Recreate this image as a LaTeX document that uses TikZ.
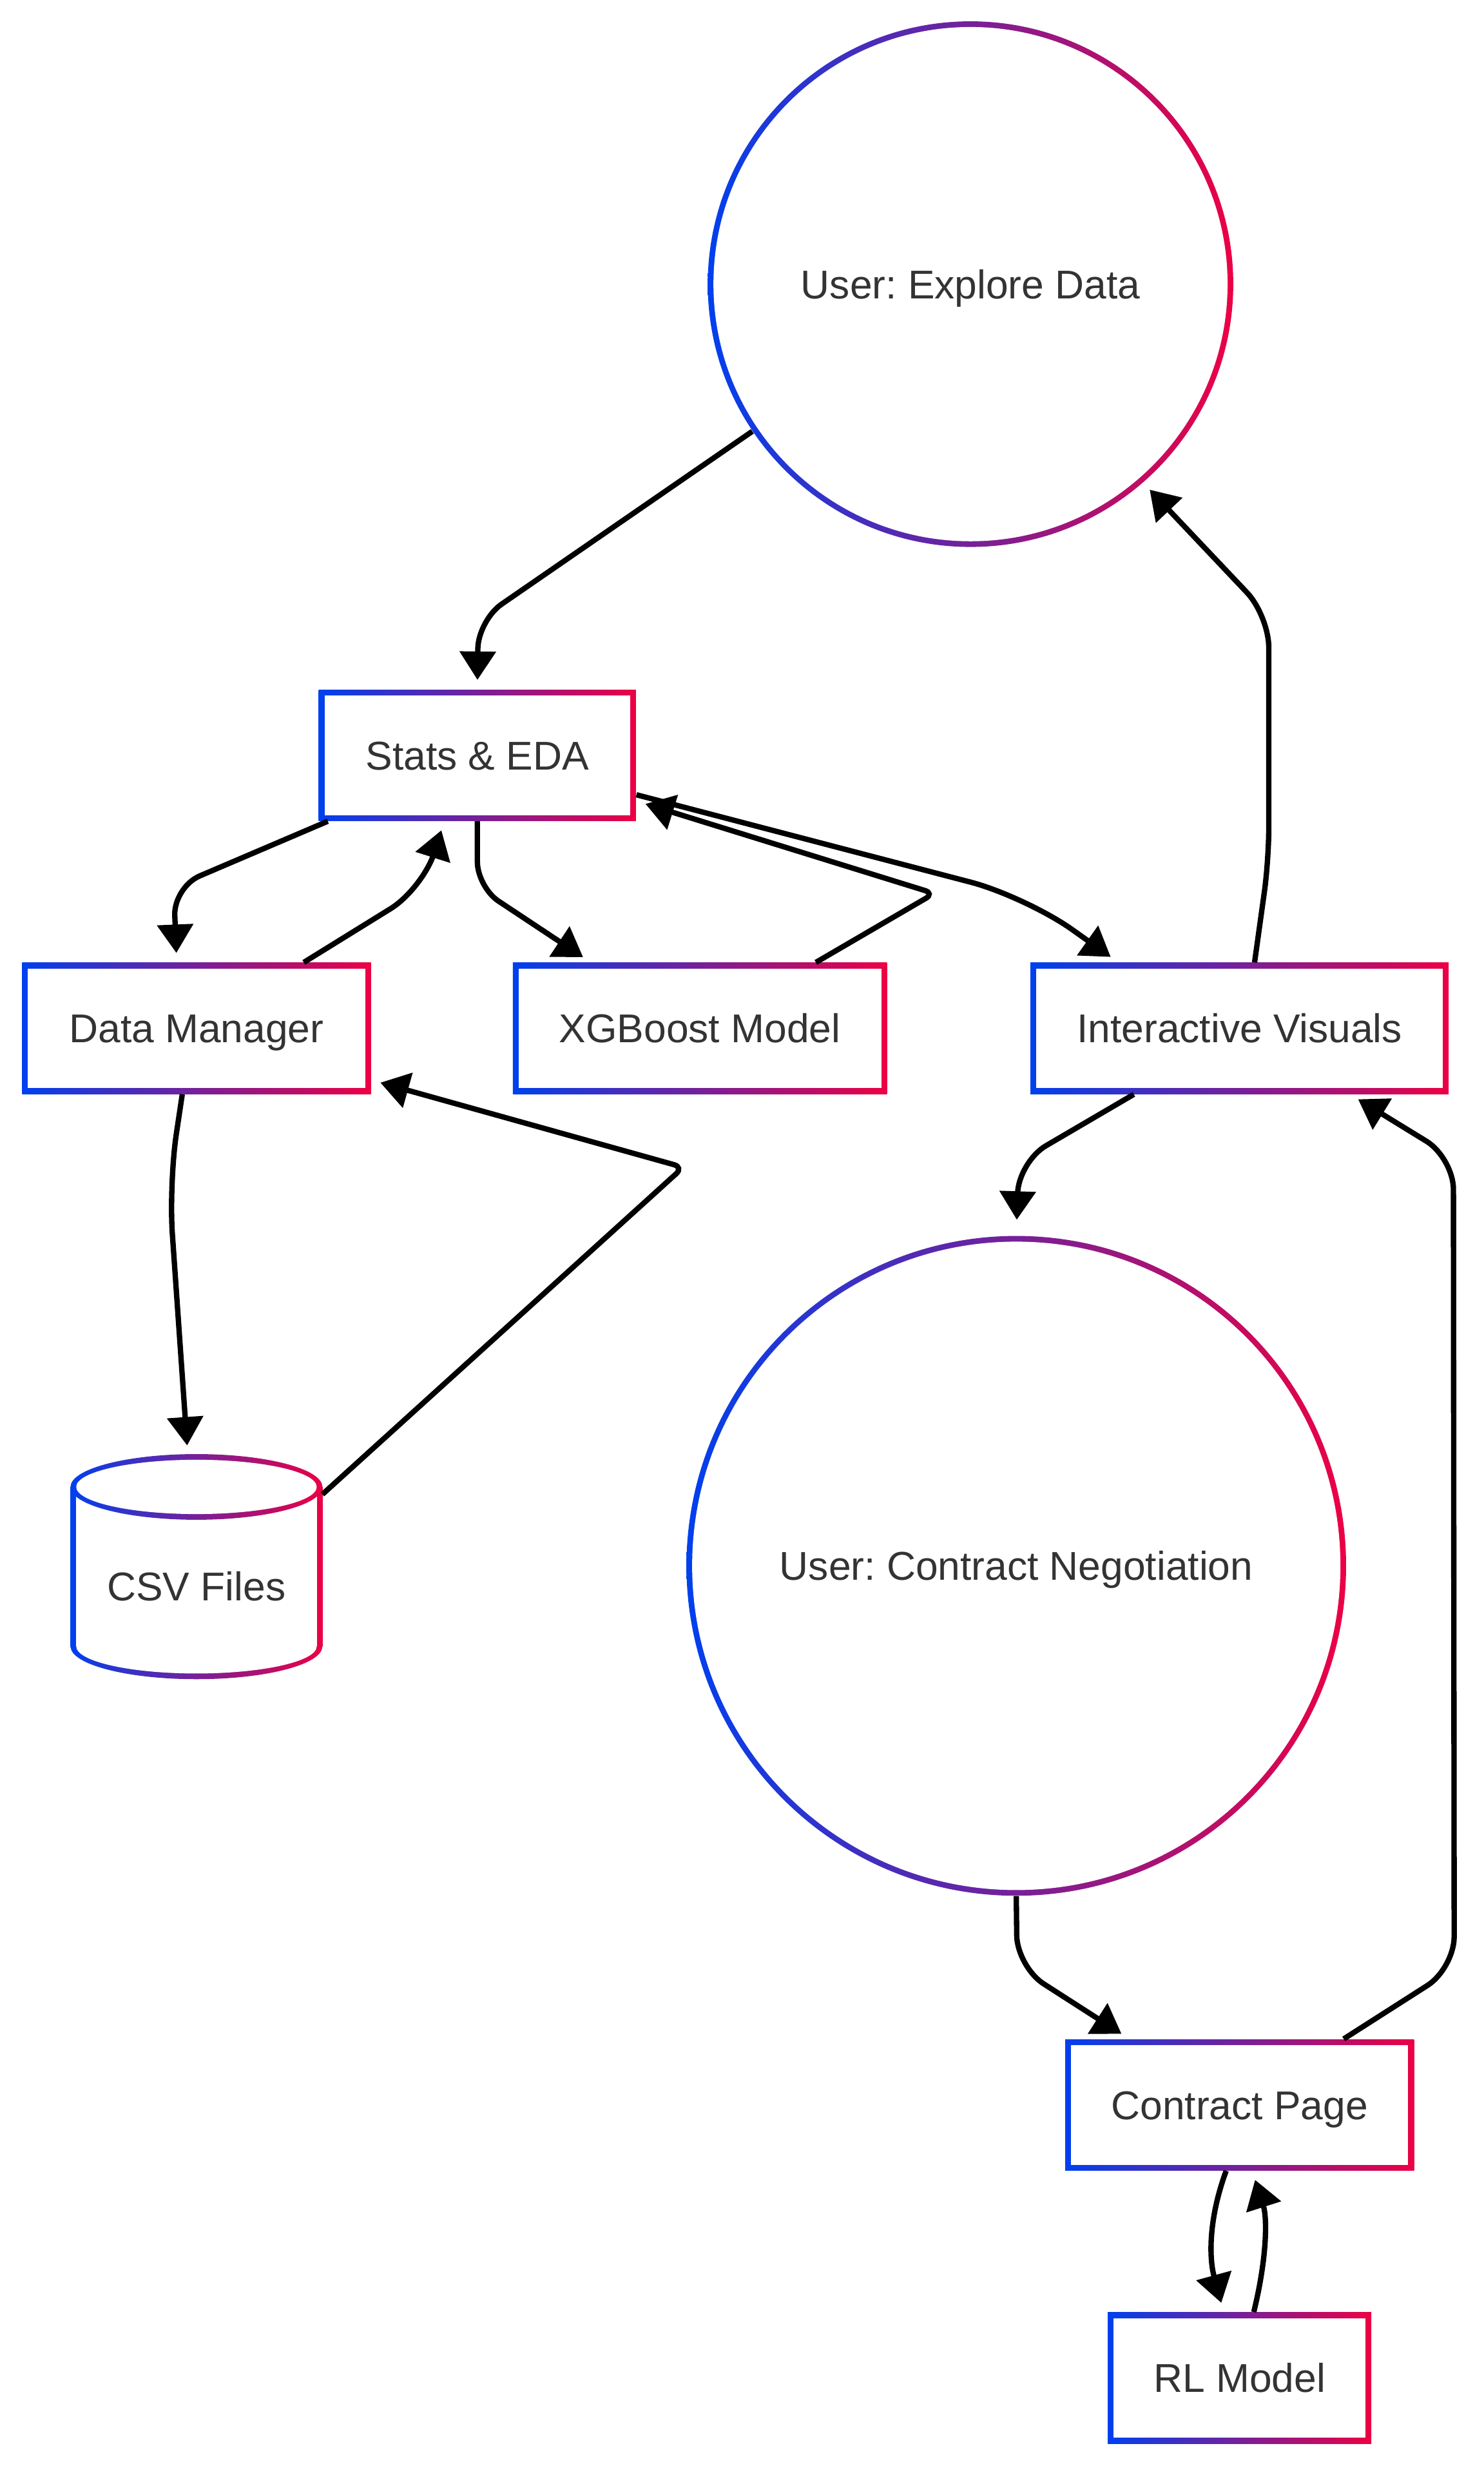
\documentclass[tikz,border=0pt]{standalone}
\usepackage{fontspec}
\setmainfont{Liberation Sans}
\usetikzlibrary{arrows.meta,calc}
\frenchspacing
\definecolor{gblue}{RGB}{0,64,238}
\definecolor{gred}{RGB}{236,0,68}
\definecolor{labelgray}{HTML}{333333}
\tikzset{
  boxtext/.style={font=\fontsize{18.1}{22}\selectfont, text=labelgray, text height=12.96pt, text depth=0pt},
  gradfill/.style={left color=gblue, right color=gred},
  gradbox/.style={rectangle, inner sep=0pt, minimum width=#1*0.025cm, minimum height=83*0.025cm, gradfill,
    path picture={\fill[white] ([shift={(0.09cm,0.09cm)}]path picture bounding box.south west)
      rectangle ([shift={(-0.09cm,-0.09cm)}]path picture bounding box.north east);}, boxtext},
  gradcircle/.style={circle, inner sep=0pt, minimum size=#1*0.025cm, gradfill,
    path picture={\fill[white] (path picture bounding box.center) circle [radius=#1*0.0125cm-0.09cm];}, boxtext},
  flow/.style={-{Triangle[length=0.45cm,width=0.56cm]}, line width=0.085cm, shorten >=0.15cm}
}
\begin{document}
\begin{tikzpicture}[x=0.025cm, y=-0.025cm]
  \path[use as bounding box, fill=white] (0,0) rectangle (940,1568);

  \node[gradcircle=333] (explore) at (615,180) {User: Explore Data};
  \node[gradbox=201] (stats) at (302.5,478.5) {Stats \& EDA};
  \node[gradbox=221] (dm) at (124.5,651.5) {Data Manager};
  \node[gradbox=237] (xgb) at (443.5,651.5) {XGBoost Model};
  \node[gradbox=265] (iv) at (785.5,651.5) {Interactive Visuals};
  \node[gradcircle=418] (cn) at (644,992) {User: Contract Negotiation};
  \node[gradbox=221] (cp) at (785.5,1333.5) {Contract Page};
  \node[gradbox=167] (rl) at (785.5,1506.5) {RL Model};

  % csv cylinder
  \shade[gradfill] (124.5,1043) ellipse [x radius=79.8*0.025cm, y radius=20.8*0.025cm];
  \shade[gradfill] (44.7,942) rectangle (204.3,1043);
  \fill[white] (124.5,1043) ellipse [x radius=76.2*0.025cm, y radius=17.2*0.025cm];
  \fill[white] (48.3,942) rectangle (200.7,1043);
  \shade[gradfill] (124.5,942) ellipse [x radius=79.8*0.025cm, y radius=20.8*0.025cm];
  \fill[white] (124.5,942) ellipse [x radius=76.2*0.025cm, y radius=17.2*0.025cm];
  \node[minimum width=159*0.025cm, minimum height=140*0.025cm, inner sep=0pt,
    label={[boxtext, yshift=-0.325cm]center:CSV Files}] (csv) at (124.5,992) {};

  \draw[flow, rounded corners=0.45cm] (explore.214) -- (303,393) -- (stats.north);
  \draw[flow, rounded corners=0.45cm] ($(stats.south west)+(6,0)$) -- (110,562) -- ($(dm.north)+(-12.5,0)$);
  \draw[flow, rounded corners=0.6cm] ($(dm.north)+(68,0)$) -- (268,563) -- ($(stats.south)+(-21,0)$);
  \draw[flow, rounded corners=0.4cm] (stats.south) -- (302.5,562) -- ($(xgb.north)+(-69,0)$);
  \draw[flow, rounded corners=0.15cm] ($(xgb.north)+(73.5,0)$) -- (592,566) -- ($(stats.east)+(0,29)$);
  \draw[flow, rounded corners=0.9cm] ($(stats.east)+(0,25)$) -- (650,568) -- ($(iv.north west)+(56,0)$);
  \draw[flow, rounded corners=0.5cm] ($(iv.north)+(9.5,0)$) -- (804,545) -- (804,390) -- (explore.311.6);
  \draw[flow, rounded corners=0.5cm, shorten >=0.25cm] ($(iv.south)+(-67,0)$) -- (645.5,736) -- (cn.north);
  \draw[flow, rounded corners=0.5cm] (cn.south) -- (644.5,1246) -- ($(cp.north west)+(41,0)$);
  \draw[flow, rounded corners=0.5cm] ($(cp.north)+(66,0)$) -- (921.5,1247) -- (921,733.5) -- ($(iv.south)+(70,0)$);
  \draw[flow] ($(cp.south)+(-8.5,0)$) .. controls (766,1405) and (766,1430) .. ($(rl.north)+(-10,0)$);
  \draw[flow] ($(rl.north)+(9,0)$) .. controls (803,1430) and (803,1405) .. ($(cp.south)+(8,0)$);
  \draw[flow, rounded corners=0.8cm] ($(dm.south)+(-9,0)$) -- (107,750) -- ($(csv.north)+(-5.5,0)$);
  \draw[flow, rounded corners=0.15cm] ($(csv.north east)+(0,25)$) -- (433,739.5) -- ($(dm.south east)+(0,-9)$);
\end{tikzpicture}
\end{document}
